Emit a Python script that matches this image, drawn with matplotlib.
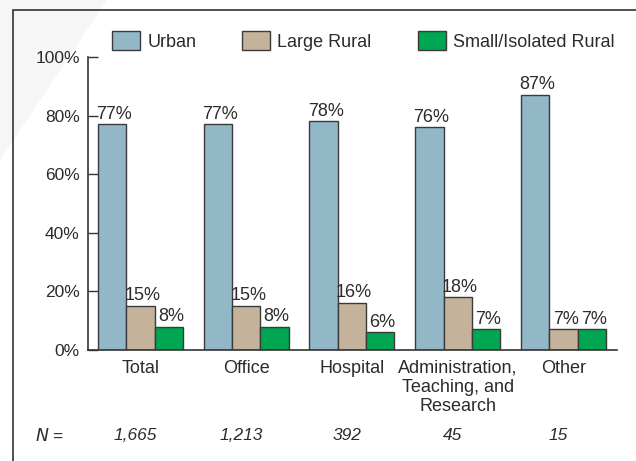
import numpy as np
import matplotlib
matplotlib.use('Agg')
import matplotlib.pyplot as plt
from matplotlib.patches import Polygon, Rectangle

plt.rcParams['font.family'] = ['Liberation Sans', 'DejaVu Sans']

categories = ['Total', 'Office', 'Hospital', 'Administration,\nTeaching, and\nResearch', 'Other']
n_counts = ['1,665', '1,213', '392', '45', '15']
urban = [77, 77, 78, 76, 87]
large_rural = [15, 15, 16, 18, 7]
small_rural = [8, 8, 6, 7, 7]
series_names = ['Urban', 'Large Rural', 'Small/Isolated Rural']
colors = ['#92B7C7', '#C4B39A', '#00A651']
edge = '#3a3a3a'
txt = '#2b2b2b'
fs = 13

fig = plt.figure(figsize=(6.36, 4.61), dpi=100)

# faint grey background shape, top-left corner
fig.patches.append(Polygon([[0, 1], [107 / 636, 1], [0, 1 - 160 / 461]],
                           closed=True, transform=fig.transFigure,
                           facecolor='#f6f6f6', edgecolor='none', zorder=-2))
# outer frame (right and bottom edges fall outside the image)
fig.patches.append(Rectangle((13 / 636, -0.1), 1.2, 1.1 - 10 / 461,
                             transform=fig.transFigure, fill=False,
                             edgecolor='#333333', linewidth=1.2, zorder=-1))

ax = fig.add_axes([88 / 636, 1 - 350 / 461, (617 - 88) / 636, (350 - 57) / 461])
ax.patch.set_alpha(0)

x = np.arange(len(categories))
w = 0.268
for i, (vals, col) in enumerate(zip([urban, large_rural, small_rural], colors)):
    pos = x + (i - 1) * w
    ax.bar(pos, vals, width=w, color=col, edgecolor=edge, linewidth=1.0,
           label=series_names[i], zorder=2)
    for px, v in zip(pos, vals):
        ax.text(px + 0.02, v + 0.6, f'{v}%', ha='center', va='bottom',
                fontsize=fs, color=txt)

ax.set_xlim(-0.496, 4.506)
ax.set_ylim(0, 100)
ax.set_yticks([0, 20, 40, 60, 80, 100])
ax.set_yticklabels([f'{t}%' for t in range(0, 101, 20)])
ax.set_xticks(x)
ax.set_xticklabels(categories, fontsize=fs, color=txt, linespacing=1.15)
ax.tick_params(axis='y', direction='in', length=7.2, width=1.0, colors='#333333',
               labelsize=12.5, labelcolor=txt, pad=6)
ax.tick_params(axis='x', length=0, pad=7)
for s in ['top', 'right']:
    ax.spines[s].set_visible(False)
for s in ['left', 'bottom']:
    ax.spines[s].set_color('#333333')
    ax.spines[s].set_linewidth(1.2)

# N row
ny = 1 - 435 / 461
fig.text(50 / 636, ny, r'$N$ =', ha='center', va='center', fontsize=12.5, color=txt)
for xi, n in zip(x, n_counts):
    fx = ax.transData.transform((xi - 0.05, 0))[0]
    fig.text(fx / fig.dpi / 6.36, ny, n, ha='center', va='center', fontsize=12.5,
             color=txt, style='italic')

leg = fig.legend(loc='center left', bbox_to_anchor=(105 / 636, 1 - 41 / 461), ncol=3,
                 frameon=False, fontsize=fs, handlelength=1.55, handleheight=1.27,
                 handletextpad=0.39, columnspacing=2.55, borderaxespad=0)
for t in leg.get_texts():
    t.set_color(txt)

plt.savefig('out.png', dpi=100)
plt.close()
